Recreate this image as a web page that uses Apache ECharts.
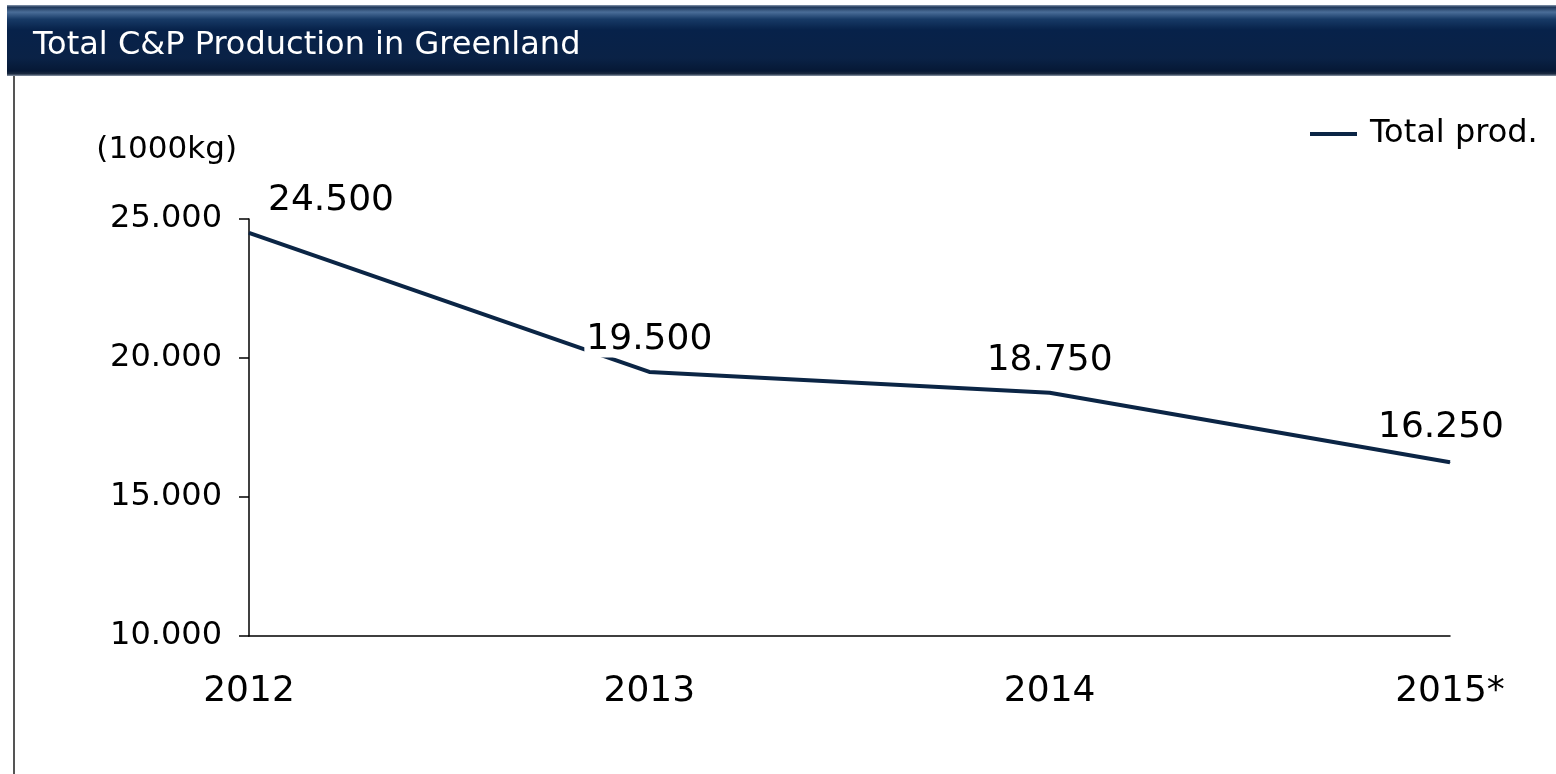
<!DOCTYPE html>
<html>
<head>
<meta charset="utf-8">
<script src="https://cdn.jsdelivr.net/npm/echarts@6/dist/echarts.min.js"></script>
<style>
  html, body { margin: 0; padding: 0; background: #fff; }
  #prodLine { width: 1556px; height: 774px; }
</style>
</head>
<body>
<div id="prodLine"></div>
<script>
// values in 1000kg
var years = ["2012", "2013", "2014", "2015*"];
var totalProd = [24500, 19500, 18750, 16250];
var yTicks = { min: 10000, max: 25000, step: 5000 };

var navy = "#0b2545";
var font = "DejaVu Sans";

function fmt(v) {
  // 24500 -> 24.500
  return String(v).replace(/\B(?=(\d{3})+(?!\d))/g, ".");
}

var labelTweaks = [
  { offset: [82, 0] },
  { backgroundColor: "#fff", padding: [0, 2] },
  {},
  { offset: [-9, -2] }
];

var chart = echarts.init(document.getElementById("prodLine"));
chart.setOption({
  backgroundColor: "#fff",
  animation: false,
  textStyle: { fontFamily: font },
  graphic: [
    {
      type: "rect",
      z: 0,
      shape: { x: 7, y: 5, width: 1560, height: 71 },
      style: {
        fill: {
          type: "linear", x: 0, y: 0, x2: 0, y2: 1,
          colorStops: [
            { offset: 0, color: "#8a9ab0" },
            { offset: 0.03, color: "#1d3658" },
            { offset: 0.1, color: "#4a6d98" },
            { offset: 0.2, color: "#173a66" },
            { offset: 0.35, color: "#07224a" },
            { offset: 0.75, color: "#0a2246" },
            { offset: 0.93, color: "#061835" },
            { offset: 0.97, color: "#1b2a40" },
            { offset: 1, color: "#8d99aa" }
          ]
        }
      }
    },
    {
      type: "line",
      shape: { x1: 14, y1: 76, x2: 14, y2: 774 },
      style: { stroke: "#555", lineWidth: 2 }
    }
  ],
  title: {
    text: "Total C&P Production in Greenland",
    left: 33,
    top: 30,
    padding: 0,
    textStyle: { color: "#fff", fontSize: 32, fontWeight: "normal", fontFamily: font }
  },
  legend: {
    left: 1310,
    top: 117,
    padding: 0,
    icon: "rect",
    itemWidth: 47,
    itemHeight: 4,
    textStyle: { color: "#000", fontSize: 32, lineHeight: 34, padding: [0, 0, 0, 8], fontFamily: font },
    data: ["Total prod."]
  },
  grid: { left: 249, right: 106, top: 219, bottom: 138 },
  xAxis: {
    type: "category",
    data: years,
    boundaryGap: false,
    axisLine: { lineStyle: { color: "#000", width: 1.5 } },
    axisTick: { show: false },
    axisLabel: { color: "#000", fontSize: 36, margin: 38, fontFamily: font },
    splitLine: { show: false }
  },
  yAxis: {
    type: "value",
    min: yTicks.min,
    max: yTicks.max,
    interval: yTicks.step,
    name: "(1000kg)",
    nameLocation: "end",
    nameGap: 54,
    nameTextStyle: { color: "#000", fontSize: 31, align: "right", padding: [0, 12, 0, 0], fontFamily: font },
    axisLine: { show: true, lineStyle: { color: "#000", width: 1.5 } },
    axisTick: { show: true, length: 10, lineStyle: { color: "#000", width: 1.5 } },
    axisLabel: { color: "#000", fontSize: 32, margin: 27, formatter: fmt, fontFamily: font },
    splitLine: { show: false }
  },
  series: [
    {
      name: "Total prod.",
      type: "line",
      symbol: "circle",
      symbolSize: 1,
      showSymbol: true,
      lineStyle: { color: navy, width: 4 },
      itemStyle: { color: navy },
      data: totalProd.map(function (v, i) {
        return { value: v, label: labelTweaks[i] };
      }),
      label: {
        show: true,
        position: "top",
        distance: 14,
        color: "#000",
        fontSize: 36,
        fontFamily: font,
        formatter: function (p) { return fmt(p.value); }
      }
    }
  ]
});
</script>
</body>
</html>
